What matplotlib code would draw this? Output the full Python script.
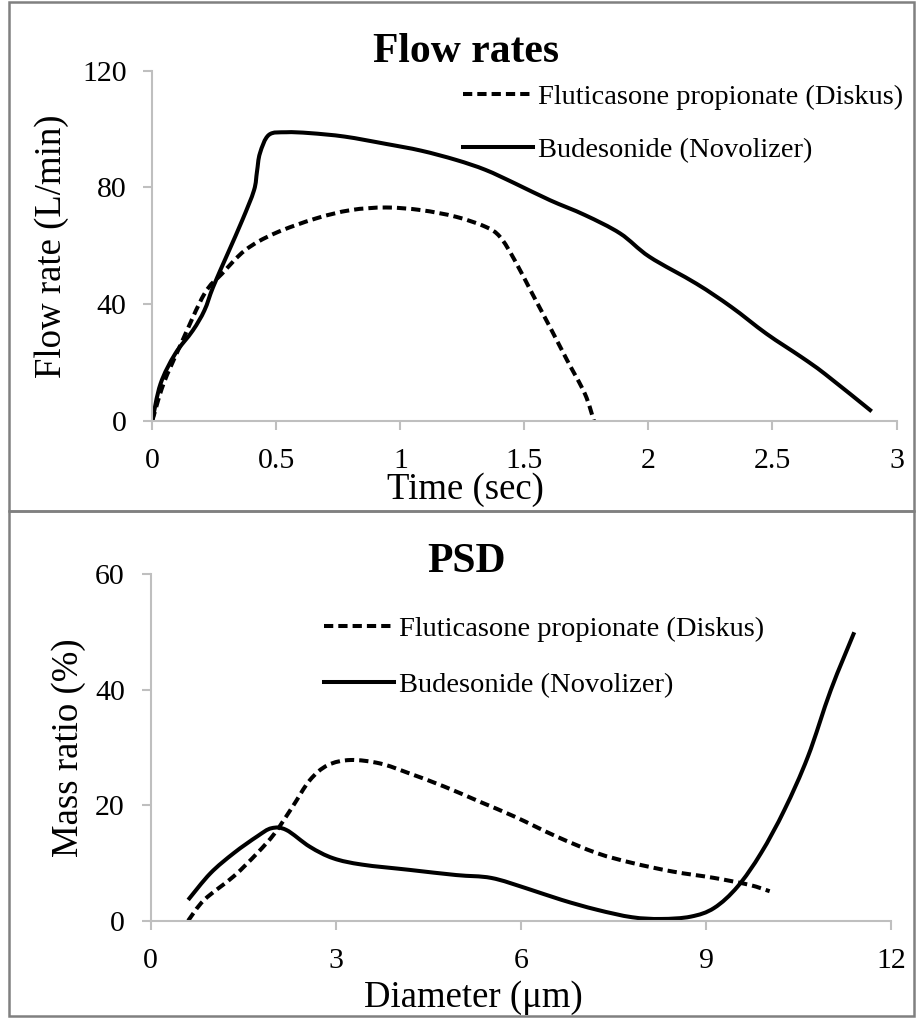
import matplotlib
matplotlib.use('Agg')
import matplotlib.pyplot as plt
from matplotlib.patches import Rectangle, PathPatch
from matplotlib.path import Path
from matplotlib.lines import Line2D

plt.rcParams['font.family'] = ['Liberation Serif', 'DejaVu Serif']

# ---------------- data ----------------
flow_labels = ['Fluticasone propionate (Diskus)', 'Budesonide (Novolizer)']

time_fp = [0, 0.045, 0.116, 0.21, 0.281, 0.375, 0.493, 0.658, 0.8, 0.942, 1.083,
           1.225, 1.343, 1.402, 1.461, 1.532, 1.603, 1.673, 1.744, 1.78]
flow_fp = [0, 12.6, 26.4, 43.5, 50.4, 58.5, 64.2, 69.3, 72.2, 73.1, 72.2,
           69.9, 66.5, 63.0, 55.0, 43.5, 32.1, 20.6, 9.2, 0]

time_bud = [0, 0.033, 0.092, 0.163, 0.21, 0.245, 0.304, 0.363, 0.41, 0.422, 0.434,
            0.47, 0.54, 0.635, 0.776, 0.942, 1.083, 1.225, 1.343, 1.461, 1.603,
            1.744, 1.886, 2.004, 2.193, 2.334, 2.476, 2.617, 2.712, 2.9]
flow_bud = [0, 12.6, 22.9, 30.9, 37.8, 45.8, 57.3, 68.8, 79.0, 85.4, 91.7,
            98.0, 98.9, 98.6, 97.4, 94.9, 92.6, 89.4, 86.0, 81.4, 75.6,
            70.5, 64.2, 56.2, 47.0, 39.0, 29.8, 21.8, 16.0, 3.2]

diam_fp = [0.61, 0.87, 1.35, 1.73, 2.01, 2.3, 2.58, 2.87, 3.24, 3.72, 4.19, 4.76,
           5.33, 5.9, 6.57, 7.23, 7.8, 8.46, 9.13, 9.7, 10.03]
mass_fp = [0, 3.6, 7.7, 11.7, 15.1, 19.7, 24.3, 26.9, 27.8, 27.2, 25.5, 23.2,
           20.6, 18.0, 14.6, 11.7, 10.0, 8.5, 7.4, 6.2, 5.1]

diam_bud = [0.61, 0.97, 1.35, 1.73, 1.96, 2.2, 2.58, 2.96, 3.43, 4.19, 4.95, 5.52,
            6.09, 6.66, 7.23, 7.8, 8.27, 8.75, 9.13, 9.51, 9.89, 10.27, 10.65,
            11.02, 11.4]
mass_bud = [3.6, 8.2, 11.7, 14.6, 16.0, 15.7, 12.8, 10.8, 9.7, 8.8, 7.9, 7.4,
            5.6, 3.6, 1.9, 0.6, 0.3, 0.7, 2.2, 5.9, 11.7, 19.2, 28.4,
            39.9, 49.9]

flow_xticks = [0, 0.5, 1, 1.5, 2, 2.5, 3]
flow_xticklabels = ['0', '0.5', '1', '1.5', '2', '2.5', '3']
flow_yticks = [0, 40, 80, 120]
psd_xticks = [0, 3, 6, 9, 12]
psd_yticks = [0, 20, 40, 60]

# ---------------- layout ----------------
W, H = 916, 1018
fig = plt.figure(figsize=(W / 100, H / 100), dpi=100)


def fx(px):
    return px / W


def fy(py):
    return 1 - py / H


def axes_px(left, right, top, bottom):
    return fig.add_axes([fx(left), fy(bottom), (right - left) / W, (bottom - top) / H])


SPINE = '#BFBFBF'
FRAME = '#808080'
TICK_FS = 21.5
LABEL_FS = 26.5
LEG_FS = 20.5
TITLE_FS = 30
LW = 2.9
DASHES = (2.3, 1.25)


def style(ax):
    for s in ('top', 'right'):
        ax.spines[s].set_visible(False)
    for s in ('left', 'bottom'):
        ax.spines[s].set_color(SPINE)
        ax.spines[s].set_linewidth(1.5)
    ax.tick_params(axis='both', direction='out', length=6.5, width=1.5,
                   color=SPINE, labelcolor='black', labelsize=TICK_FS)
    ax.tick_params(axis='x', pad=13)
    ax.tick_params(axis='y', pad=12)
    ax.set_facecolor('none')


def smooth_line(ax, x, y, dashed):
    """Excel-style smoothed line: cubic Bezier segments through the data points."""
    pts = list(zip(x, y))
    n = len(pts)
    verts = [pts[0]]
    codes = [Path.MOVETO]
    for i in range(n - 1):
        p0 = pts[i - 1] if i > 0 else pts[i]
        p1 = pts[i]
        p2 = pts[i + 1]
        p3 = pts[i + 2] if i + 2 < n else pts[i + 1]
        c1 = (p1[0] + (p2[0] - p0[0]) / 6, p1[1] + (p2[1] - p0[1]) / 6)
        c2 = (p2[0] - (p3[0] - p1[0]) / 6, p2[1] - (p3[1] - p1[1]) / 6)
        verts += [c1, c2, p2]
        codes += [Path.CURVE4] * 3
    patch = PathPatch(Path(verts, codes), fill=False, edgecolor='black', lw=LW,
                      linestyle=(0, DASHES) if dashed else '-',
                      joinstyle='round', capstyle='butt', transform=ax.transData)
    ax.add_patch(patch)


def legend_handles():
    return [Line2D([], [], color='black', lw=LW, dashes=DASHES),
            Line2D([], [], color='black', lw=LW)]


# frames
fig.patches.append(Rectangle((fx(8.5), fy(510.5)), (914 - 8.5) / W, (510.5 - 2) / H,
                             transform=fig.transFigure, fill=False,
                             edgecolor=FRAME, linewidth=1.8))
fig.patches.append(Rectangle((fx(8.5), fy(1016)), (914 - 8.5) / W, (1016 - 510.5) / H,
                             transform=fig.transFigure, fill=False,
                             edgecolor=FRAME, linewidth=1.8))

# ---- top panel ----
ax1 = axes_px(152.3, 896.5, 70.7, 420.7)
style(ax1)
smooth_line(ax1, time_fp, flow_fp, True)
smooth_line(ax1, time_bud, flow_bud, False)
ax1.set_xlim(0, 3)
ax1.set_ylim(0, 120)
ax1.set_xticks(flow_xticks)
ax1.set_xticklabels(flow_xticklabels)
ax1.set_yticks(flow_yticks)
ax1.legend(legend_handles(), flow_labels, loc='upper left',
           bbox_to_anchor=(fx(463), fy(84)), bbox_transform=fig.transFigure,
           frameon=False, fontsize=LEG_FS, handlelength=2.45, handletextpad=0.2,
           labelspacing=0.955, borderpad=0, borderaxespad=0)
fig.text(fx(466), fy(62), 'Flow rates', ha='center', va='baseline',
         fontsize=TITLE_FS, fontweight='bold')
fig.text(fx(465), fy(499), 'Time (sec)', ha='center', va='baseline', fontsize=LABEL_FS)
fig.text(fx(61), fy(246), 'Flow rate (L/min)', ha='center', va='baseline',
         rotation=90, rotation_mode='anchor', fontsize=LABEL_FS)

# ---- bottom panel ----
ax2 = axes_px(150.5, 891.3, 573.9, 920.7)
style(ax2)
smooth_line(ax2, diam_fp, mass_fp, True)
smooth_line(ax2, diam_bud, mass_bud, False)
ax2.set_xlim(0, 12)
ax2.set_ylim(0, 60)
ax2.set_xticks(psd_xticks)
ax2.set_yticks(psd_yticks)
ax2.legend(legend_handles(), flow_labels, loc='upper left',
           bbox_to_anchor=(fx(324), fy(616)), bbox_transform=fig.transFigure,
           frameon=False, fontsize=LEG_FS, handlelength=2.45, handletextpad=0.2,
           labelspacing=1.06, borderpad=0, borderaxespad=0)
fig.text(fx(466), fy(572), 'PSD', ha='center', va='baseline',
         fontsize=TITLE_FS, fontweight='bold')
fig.text(fx(473), fy(1007), 'Diameter (\u03bcm)', ha='center', va='baseline', fontsize=LABEL_FS)
fig.text(fx(78), fy(747.5), 'Mass ratio (%)', ha='center', va='baseline',
         rotation=90, rotation_mode='anchor', fontsize=LABEL_FS)

fig.savefig('out.png', dpi=100)
